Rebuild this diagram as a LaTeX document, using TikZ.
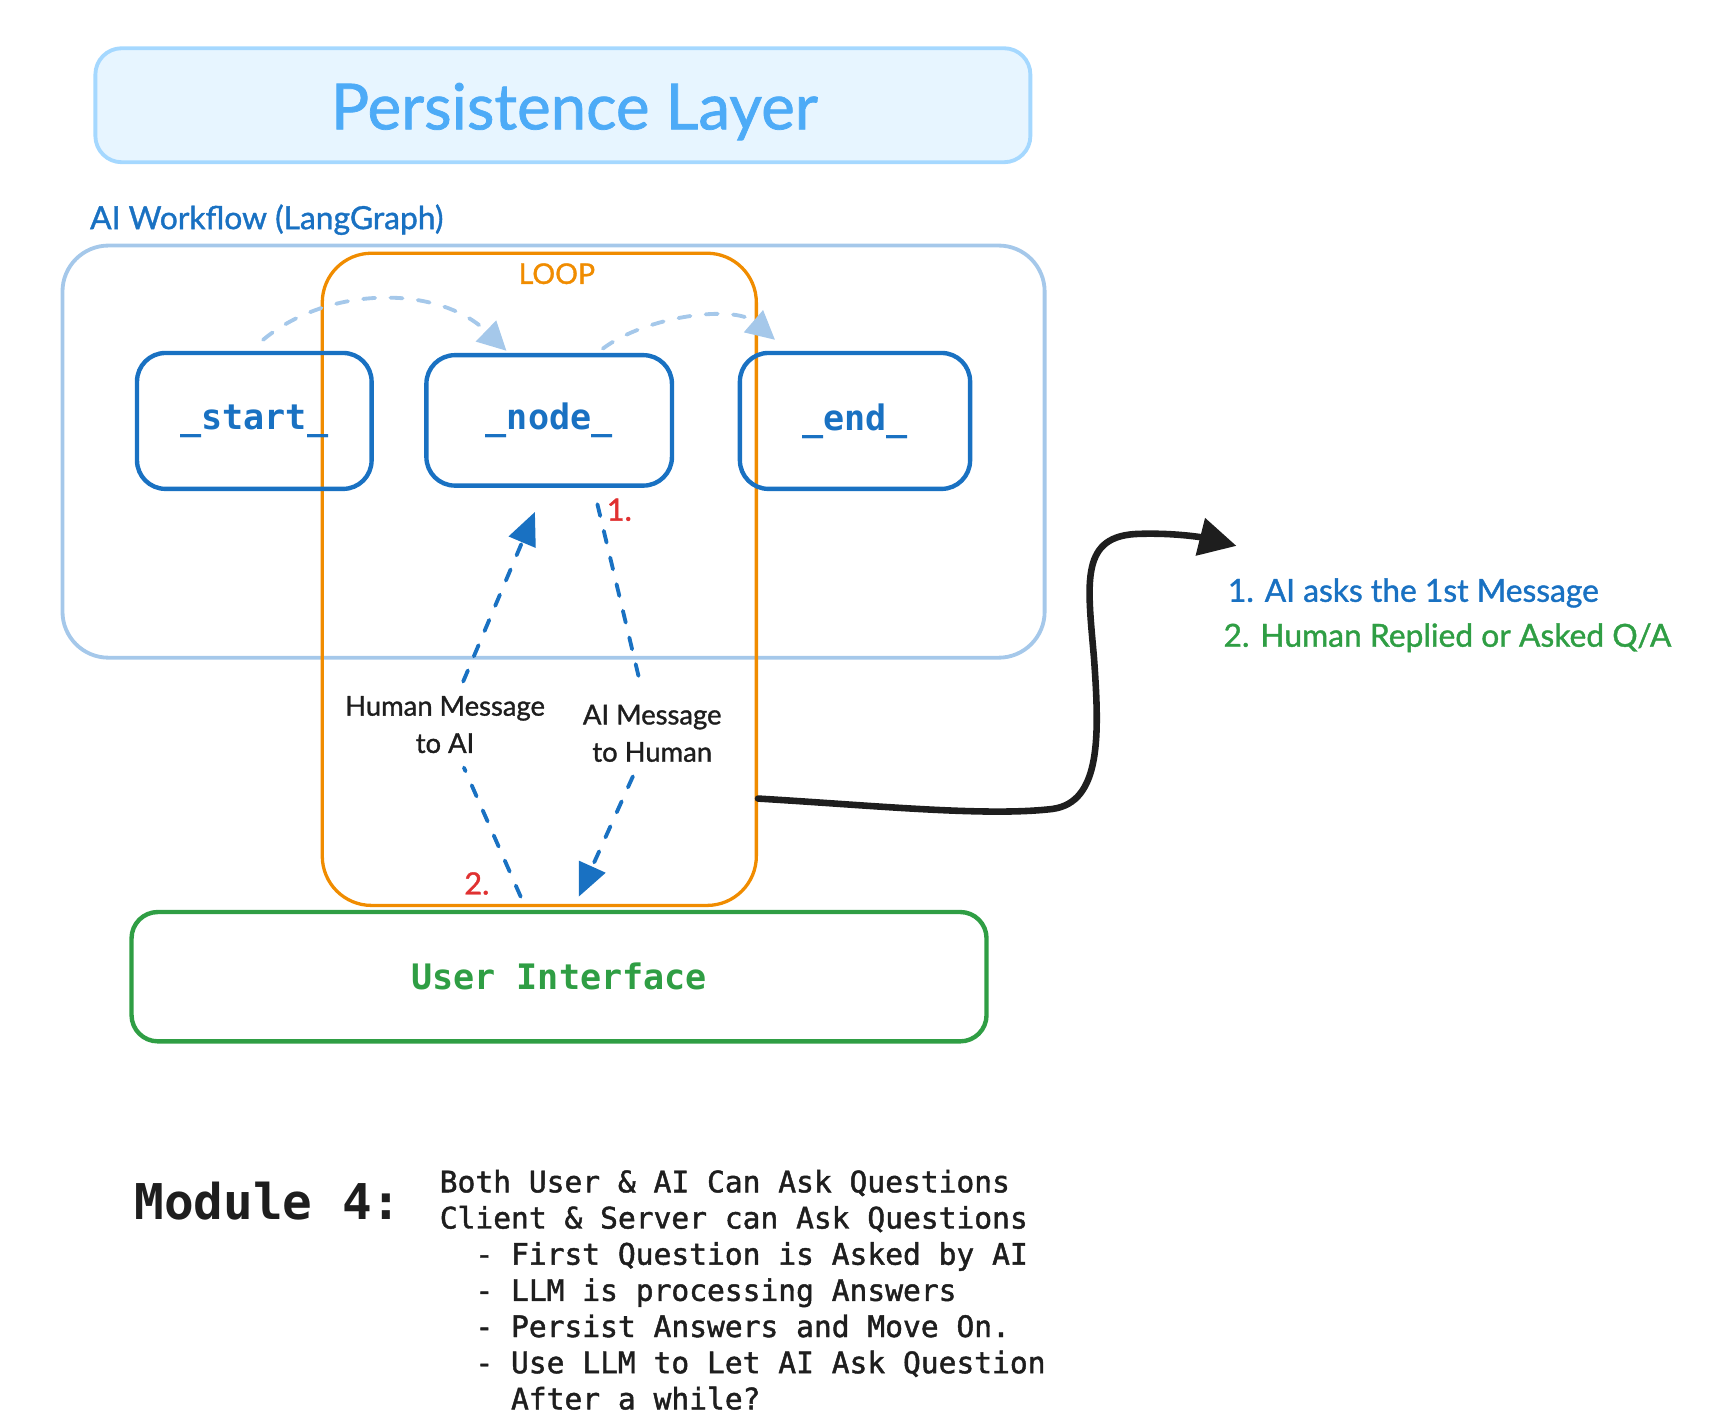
\documentclass[tikz,border=0pt]{standalone}
\usepackage{fontspec}
\setmainfont{Lato}[FakeBold=1.2]
\setmonofont{DejaVu Sans Mono}
\newfontfamily\monoheavy{DejaVu Sans Mono Bold}
\newfontfamily\monomid{DejaVu Sans Mono}[FakeBold=1.5]
\usetikzlibrary{arrows.meta,calc}
\definecolor{pfill}{HTML}{E7F5FF}
\definecolor{pstroke}{HTML}{A5D8FF}
\definecolor{ptext}{HTML}{4DABF7}
\definecolor{wfline}{HTML}{A5C8EA}
\definecolor{dblue}{HTML}{1971C2}
\definecolor{lorange}{HTML}{F08C00}
\definecolor{rred}{HTML}{E03131}
\definecolor{ggreen}{HTML}{2F9E44}
\definecolor{inkblack}{HTML}{1E1E1E}
\begin{document}
\begin{tikzpicture}[x=1pt,y=-1pt,
  flowbox/.style={draw=dblue,line width=4pt,rounded corners=26pt,inner sep=0pt,
    text=dblue,font=\fontsize{32}{40}\selectfont\monoheavy},
  lightarrow/.style={draw=wfline,line width=3.5pt,line cap=round,dash pattern=on 11pt off 14pt,
    -{Triangle[length=26pt,width=26pt]}},
  bluedash/.style={draw=dblue,line width=3.5pt,line cap=round,dash pattern=on 11pt off 14pt},
  bluetip/.style={-{Triangle[length=30pt,width=26pt]}},
  msglabel/.style={align=center,inner xsep=4pt,inner ysep=13pt,text=inkblack,
    font=\fontsize{25}{34}\selectfont},
  rednum/.style={anchor=base,text=rred,font=\fontsize{28}{32}\selectfont},
  blackarrow/.style={draw=inkblack,line width=6pt,line cap=round,
    -{Triangle[length=34pt,width=34pt]}},
  legend/.style={anchor=base west,inner sep=0pt,font=\fontsize{29}{35}\selectfont}
]
\useasboundingbox (0,0) rectangle (1560,1301);

% persistence layer
\node[draw=pstroke,fill=pfill,line width=3.5pt,rounded corners=24pt,
  minimum width=853pt,minimum height=104pt] (persist) at (513.5,96) {};
\node[anchor=base,text=ptext,font=\fontsize{58}{70}\selectfont] (ptitle) at (524,118) {Persistence Layer};

% workflow container
\node[draw=wfline,line width=3.5pt,rounded corners=42pt,
  minimum width=896pt,minimum height=376pt] (wf) at (505,412) {};
\node[anchor=base west,inner sep=0pt,text=dblue,font=\fontsize{29}{35}\selectfont] (wflabel) at (82,209) {AI Workflow (LangGraph)};

% loop container
\node[draw=lorange,line width=3pt,rounded corners=45pt,
  minimum width=396pt,minimum height=595pt] (loop) at (492,528.5) {};
\node[anchor=base,text=lorange,font=\fontsize{26}{30}\selectfont] (looplabel) at (508,259) {LOOP};

% graph nodes
\node[flowbox,minimum width=214pt,minimum height=124pt] (start) at (232,384) {\_start\_};
\node[flowbox,minimum width=224pt,minimum height=119pt] (mid) at (501,383.5) {\_node\_};
\node[flowbox,minimum width=210pt,minimum height=124pt] (fin) at (780,384) {\_end\_};

% user interface
\node[draw=ggreen,line width=4pt,rounded corners=24pt,minimum width=780pt,minimum height=118pt,
  text=ggreen,font=\fontsize{32}{40}\selectfont\monoheavy] (ui) at (510,891) {User Interface};

% top light dashed arrows
\draw[lightarrow] ($(start.north)+(8,-10)$) .. controls ($(start.north)+(68,-60)$) and ($(mid.north)+(-101,-62)$) .. ($(mid.north)+(-39,-2)$);
\draw[lightarrow] ($(mid.north)+(49,-4)$) .. controls ($(mid.north)+(89,-34)$) and ($(fin.north)+(-110,-42)$) .. ($(fin.north)+(-73,-10)$);

% message arrows
\coordinate (hstart) at ($(ui.north)+(-35,-12)$);
\coordinate (hend) at ($(mid.south)+(-13,22)$);
\coordinate (astart) at ($(mid.south)+(44,15)$);
\coordinate (aend) at ($(ui.north)+(18,-12)$);
\node[msglabel] (hlab) at (406,661) {Human Message\\to AI};
\node[msglabel] (alab) at (595,669) {AI Message\\to Human};
\draw[bluedash] (hstart) -- (hlab);
\draw[bluedash,bluetip] (hlab) -- (hend);
\draw[bluedash] (astart) -- (alab);
\draw[bluedash,bluetip] (alab) -- (aend);
\node[rednum] (n1) at (565,475) {1.};
\node[rednum] (n2) at (435,816) {2.};

% black arrow to legend
\coordinate (bstart) at ($(loop.east)+(0,200)$);
\coordinate (bend) at (1128,498);
\draw[blackarrow] (bstart) .. controls (800,735) and (900,745) .. (960,738)
  .. controls (1005,732) and (1003,670) .. (998,600)
  .. controls (992,530) and (985,488) .. (1040,487)
  .. controls (1075,486) and (1100,491) .. (bend);

% legend
\node[legend,text=dblue] (leg1) at (1120,549) {1. AI asks the 1st Message};
\node[legend,text=ggreen] (leg2) at (1116,590) {2. Human Replied or Asked Q/A};

% module notes
\node[anchor=west,text=inkblack,font=\fontsize{45}{55}\selectfont\monoheavy] (mod) at (119,1096) {Module 4:};
\node[anchor=north west,align=left,inner sep=0pt,text=inkblack,font=\fontsize{27}{33}\selectfont\monomid] (notes) at (401,1067)
  {Both User \& AI Can Ask Questions\\
   Client \& Server can Ask Questions\\
   \hphantom{xx}- First Question is Asked by AI\\
   \hphantom{xx}- LLM is processing Answers\\
   \hphantom{xx}- Persist Answers and Move On.\\
   \hphantom{xx}- Use LLM to Let AI Ask Question\\
   \hphantom{xxxx}After a while?};
\end{tikzpicture}
\end{document}
